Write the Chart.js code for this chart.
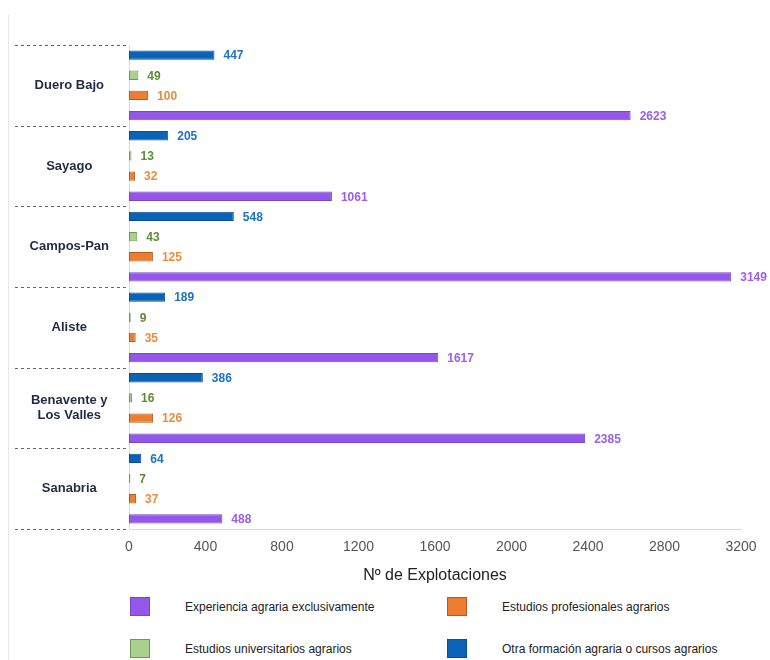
<!DOCTYPE html>
<html lang="es">
<head>
    <meta charset="UTF-8">
    <title>Formación agraria por comarca</title>
    <script src="https://cdn.jsdelivr.net/npm/chart.js"></script>
    <style>
        body {
            margin: 0;
            padding: 0;
            background: #fff;
            font-family: "Liberation Sans", Arial, sans-serif;
        }
        .frame {
            position: absolute;
            left: 8px;
            top: 14px;
            width: 0;
            height: 646px;
            border-left: 1px solid #e8e8e8;
        }
        .chart-box {
            position: absolute;
            left: 0;
            top: 0;
            width: 770px;
            height: 590px;
        }
        .legend {
            position: absolute;
            left: 130px;
            top: 597px;
            width: 620px;
        }
        .legend-item {
            position: absolute;
            display: flex;
            align-items: center;
            font-size: 12px;
            color: #222;
            white-space: nowrap;
        }
        .legend-item span.sw {
            display: inline-block;
            width: 18px;
            height: 17px;
            border: 1px solid #666;
            margin-right: 35px;
        }
    </style>
</head>
<body>
    <div class="frame"></div>
    <div class="chart-box">
        <canvas id="myChart"></canvas>
    </div>
    <div class="legend" id="legend"></div>

    <script>
        // categories (top to bottom)
        const comarcas = ['Duero Bajo', 'Sayago', 'Campos-Pan', 'Aliste', ['Benavente y', 'Los Valles'], 'Sanabria'];

        // series values, same order as comarcas
        const otraFormacion = [447, 205, 548, 189, 386, 64];
        const estudiosUniversitarios = [49, 13, 43, 9, 16, 7];
        const estudiosProfesionales = [100, 32, 125, 35, 126, 37];
        const experienciaExclusiva = [2623, 1061, 3149, 1617, 2385, 488];

        const xTicks = [0, 400, 800, 1200, 1600, 2000, 2400, 2800, 3200];

        // series in drawing order (top bar first inside each group)
        const series = [
            { label: 'Otra formación agraria o cursos agrarios', data: otraFormacion, fill: '#0b63b8', border: '#0a4f94', text: '#1a73c6' },
            { label: 'Estudios universitarios agrarios', data: estudiosUniversitarios, fill: '#a9d18e', border: '#6e9a52', text: '#5b8c32' },
            { label: 'Estudios profesionales agrarios', data: estudiosProfesionales, fill: '#ed7d31', border: '#b85a1c', text: '#ef8a3e' },
            { label: 'Experiencia agraria exclusivamente', data: experienciaExclusiva, fill: '#9358ea', border: '#7a45c8', text: '#9a5ef0' }
        ];

        // legend layout: [series index, column, row]
        const legendOrder = [[3, 0, 0], [2, 1, 0], [1, 0, 1], [0, 1, 1]];

        const legendEl = document.getElementById('legend');
        legendOrder.forEach(([idx, col, row]) => {
            const s = series[idx];
            const item = document.createElement('div');
            item.className = 'legend-item';
            item.style.left = (col * 317) + 'px';
            item.style.top = (row * 42) + 'px';
            const sw = document.createElement('span');
            sw.className = 'sw';
            sw.style.background = s.fill;
            sw.style.borderColor = s.border;
            item.appendChild(sw);
            item.appendChild(document.createTextNode(s.label));
            legendEl.appendChild(item);
        });

        // dashed separators in the label column
        const separators = {
            id: 'separators',
            afterDraw(chart) {
                const { ctx, chartArea, scales } = chart;
                const y = scales.y;
                const n = comarcas.length;
                const bounds = [chartArea.top];
                for (let i = 0; i < n - 1; i++) {
                    bounds.push((y.getPixelForValue(i) + y.getPixelForValue(i + 1)) / 2);
                }
                bounds.push(chartArea.bottom);
                ctx.save();
                ctx.strokeStyle = '#59657d';
                ctx.lineWidth = 1;
                ctx.setLineDash([3, 3]);
                bounds.forEach(b => {
                    const yy = Math.round(b) + 0.5;
                    ctx.beginPath();
                    ctx.moveTo(15, yy);
                    ctx.lineTo(chartArea.left, yy);
                    ctx.stroke();
                });
                ctx.restore();
            }
        };

        // value labels at the end of each bar
        const valueLabels = {
            id: 'valueLabels',
            afterDatasetsDraw(chart) {
                const { ctx } = chart;
                ctx.save();
                ctx.font = 'bold 12px "Liberation Sans", Arial, sans-serif';
                ctx.textBaseline = 'middle';
                ctx.textAlign = 'left';
                chart.data.datasets.forEach((ds, di) => {
                    const meta = chart.getDatasetMeta(di);
                    ctx.fillStyle = series[di].text;
                    meta.data.forEach((bar, i) => {
                        ctx.fillText(String(ds.data[i]), bar.x + 9, bar.y + 1);
                    });
                });
                ctx.restore();
            }
        };

        const ctx = document.getElementById('myChart').getContext('2d');
        const myChart = new Chart(ctx, {
            type: 'bar',
            data: {
                labels: comarcas,
                datasets: series.map(s => ({
                    label: s.label,
                    data: s.data,
                    backgroundColor: s.fill,
                    borderColor: s.border,
                    borderWidth: 1,
                    borderSkipped: false,
                    categoryPercentage: 1,
                    barPercentage: 0.46
                }))
            },
            options: {
                indexAxis: 'y',
                responsive: true,
                maintainAspectRatio: false,
                animation: false,
                layout: {
                    padding: { left: 15, right: 29, top: 45, bottom: 5 }
                },
                plugins: {
                    legend: { display: false },
                    tooltip: { enabled: false }
                },
                scales: {
                    x: {
                        min: 0,
                        max: 3200,
                        afterBuildTicks(scale) {
                            scale.ticks = xTicks.map(v => ({ value: v }));
                        },
                        grid: { display: false, drawTicks: false },
                        border: { color: '#d9d9d9' },
                        ticks: {
                            color: '#555',
                            padding: 10,
                            font: { family: '"Liberation Sans", Arial, sans-serif', size: 14 },
                            callback: v => String(v)
                        },
                        title: {
                            display: true,
                            text: 'Nº de Explotaciones',
                            color: '#222',
                            padding: { top: 0, bottom: 0 },
                            font: { family: '"Liberation Sans", Arial, sans-serif', size: 16 }
                        }
                    },
                    y: {
                        afterFit(scale) {
                            scale.width = 114;
                        },
                        grid: { display: false, drawTicks: false },
                        border: { color: '#d9d9d9' },
                        ticks: {
                            crossAlign: 'center',
                            padding: 20,
                            color: '#1f2a44',
                            font: { family: '"Liberation Sans", Arial, sans-serif', size: 13, weight: 'bold' }
                        }
                    }
                }
            },
            plugins: [separators, valueLabels]
        });
    </script>
</body>
</html>
